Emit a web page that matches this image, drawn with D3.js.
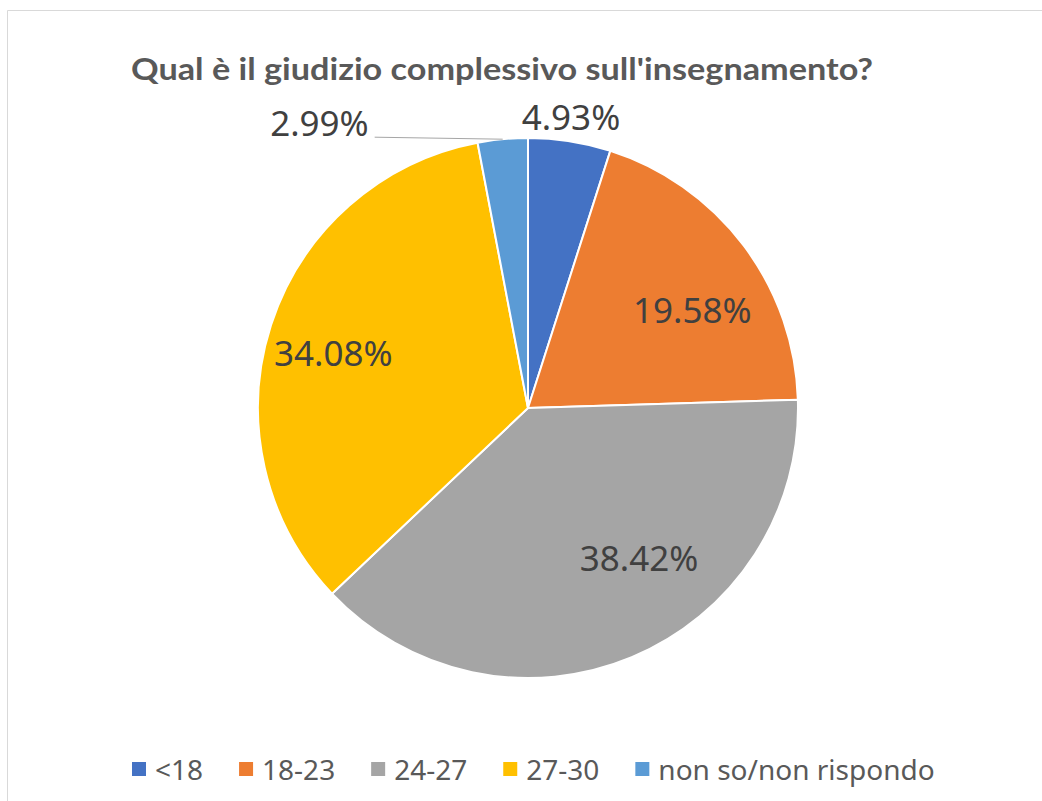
<!DOCTYPE html>
<html>
<head>
<meta charset="utf-8">
<script src="https://cdn.jsdelivr.net/npm/d3@7"></script>
<style>
  html, body { margin: 0; padding: 0; background: #ffffff; }
  svg { display: block; }
</style>
</head>
<body>
<svg id="chart" width="1042" height="801"></svg>
<script>
// ---- data ----
const title = "Qual è il giudizio complessivo sull'insegnamento?";
const categories = ["<18", "18-23", "24-27", "27-30", "non so/non rispondo"];
const values = [4.93, 19.58, 38.42, 34.08, 2.99];
const colors = ["#4472C4", "#ED7D31", "#A5A5A5", "#FFC000", "#5B9BD5"];

// ---- layout ----
const W = 1042, H = 801;
const cx = 528, cy = 408, R = 270;
// label placement (angle offset in degrees, radius fraction) for inside labels
const labelLayout = [
  { outside: true, rOff: 25, dAng: -0.5 },
  { outside: false, rf: 0.71, dAng: 6 },
  { outside: false, rf: 0.69, dAng: -14 },
  { outside: false, rf: 0.75, dAng: -2 },
  { outside: true, leader: true }
];

const svg = d3.select("#chart");

// chart area border
svg.append("path")
  .attr("d", `M7.5,${H} L7.5,10.5 L${W},10.5`)
  .attr("fill", "none")
  .attr("stroke", "#d9d9d9")
  .attr("stroke-width", 1);

// title
svg.append("text")
  .attr("x", 502).attr("y", 80)
  .attr("text-anchor", "middle")
  .attr("font-family", "Lato, 'Open Sans', sans-serif")
  .attr("font-weight", "bold")
  .attr("font-size", 31)
  .attr("fill", "#595959")
  .attr("textLength", 742)
  .attr("lengthAdjust", "spacingAndGlyphs")
  .text(title);

const pie = d3.pie().value(d => d).sort(null);
const arcs = pie(values);
const arc = d3.arc().innerRadius(0).outerRadius(R);

const g = svg.append("g").attr("transform", `translate(${cx},${cy})`);

g.selectAll("path.slice")
  .data(arcs)
  .join("path")
  .attr("class", "slice")
  .attr("d", arc)
  .attr("fill", (d, i) => colors[i])
  .attr("stroke", "#ffffff")
  .attr("stroke-width", 2)
  .attr("stroke-linejoin", "round");

const fmt = v => v.toFixed(2) + "%";
const labelFont = "'Noto Sans', 'Open Sans', sans-serif";
const labelSize = 35;

arcs.forEach((d, i) => {
  const L = labelLayout[i];
  const mid = (d.startAngle + d.endAngle) / 2;
  let tx, ty, anchor = "middle";
  if (L.leader) {
    const px = R * Math.sin(mid), py = -R * Math.cos(mid);
    const lx = px - 128, ly = py - 2;
    g.append("line")
      .attr("x1", px).attr("y1", py)
      .attr("x2", lx).attr("y2", ly)
      .attr("stroke", "#a6a6a6").attr("stroke-width", 1);
    tx = lx - 6; ty = ly - 15; anchor = "end";
  } else if (L.outside) {
    const a = mid + L.dAng * Math.PI / 180;
    const r = R + L.rOff;
    tx = r * Math.sin(a); ty = -r * Math.cos(a);
  } else {
    const a = mid + L.dAng * Math.PI / 180;
    const r = R * L.rf;
    tx = r * Math.sin(a); ty = -r * Math.cos(a);
  }
  g.append("text")
    .attr("x", tx).attr("y", ty)
    .attr("text-anchor", anchor)
    .attr("dominant-baseline", "central")
    .attr("font-family", labelFont)
    .attr("font-size", labelSize)
    .attr("fill", "#404040")
    .text(fmt(values[i]));
});

// legend
const legend = svg.append("g").attr("transform", "translate(132,769)");
let x = 0;
categories.forEach((c, i) => {
  const item = legend.append("g").attr("transform", `translate(${x},0)`);
  item.append("rect")
    .attr("x", 0).attr("y", -7)
    .attr("width", 14).attr("height", 14)
    .attr("fill", colors[i]);
  const t = item.append("text")
    .attr("x", 23).attr("y", 0)
    .attr("dominant-baseline", "central")
    .attr("font-family", "'Noto Sans', 'Open Sans', sans-serif")
    .attr("font-size", 28)
    .attr("fill", "#595959")
    .text(c);
  const w = t.node().getComputedTextLength();
  x += 23 + w + 36;
});
</script>
</body>
</html>
